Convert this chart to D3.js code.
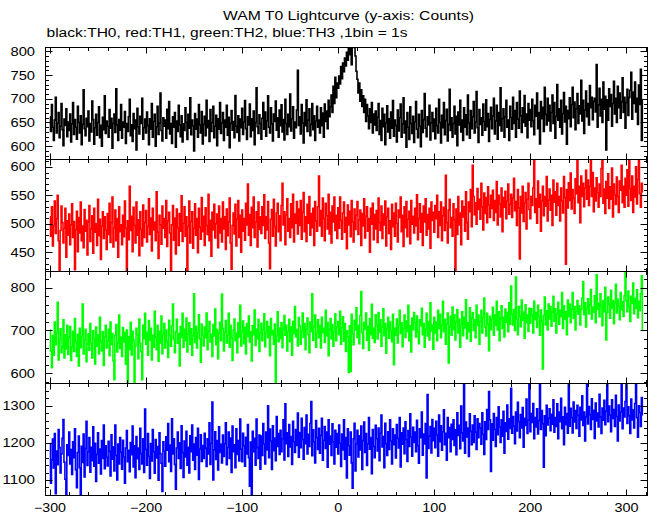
<!DOCTYPE html>
<html><head><meta charset="utf-8">
<script src="https://cdn.jsdelivr.net/npm/d3@7"></script>
<style>body{margin:0;background:#fff}svg{display:block}text{font-family:"Liberation Sans",Arial,sans-serif;fill:#000}</style>
</head><body><svg id="c" width="652" height="515"></svg>
<script>
const title = "WAM T0 Lightcurve (y-axis: Counts)";
const subtitle = "black:TH0, red:TH1, green:TH2, blue:TH3 ,1bin = 1s";
const tStart = -300; // first bin time (s), 1 bin = 1 s
const xTicks = [-300, -200, -100, 0, 100, 200, 300];
const th0 = [
662,631,688,640,612,655,703,628,649,671,618,642,690,635,601,657,644,679,620,651,
633,668,609,647,692,625,656,640,615,684,650,628,664,603,646,719,637,622,659,641,
674,611,648,630,695,656,604,639,667,623,650,683,618,644,600,661,635,706,627,653,
642,619,677,638,659,596,648,668,629,721,645,612,656,634,688,617,651,640,673,606,
648,631,662,699,622,645,610,669,637,655,592,680,641,626,663,648,701,615,639,657,
628,672,644,603,658,636,690,619,652,667,600,641,684,625,649,712,633,611,660,642,
655,617,678,637,694,626,648,606,662,640,671,598,653,631,686,645,620,664,609,647,
633,681,650,614,667,638,702,624,655,643,590,669,636,657,619,688,645,628,673,605,
646,663,622,697,639,654,610,677,631,650,684,618,642,665,601,658,636,692,627,649,
671,612,655,640,686,623,661,597,648,675,634,652,618,707,642,629,664,611,657,639,
680,625,651,696,637,614,662,645,689,620,658,633,674,603,650,723,641,627,666,648,
615,659,692,636,672,621,654,706,640,628,681,647,611,668,652,695,634,660,619,676,
643,687,630,656,613,699,648,625,667,641,710,632,658,683,617,651,639,676,760,644,
662,626,688,649,607,671,643,698,631,655,679,622,646,690,635,664,612,653,684,640,
655,628,681,643,670,619,689,652,674,637,697,662,683,708,671,726,690,745,702,733,
722,748,731,768,742,775,757,786,769,798,781,818,793,834,772,829,808,846,790,758,
741,712,733,695,719,684,706,671,699,652,688,664,637,679,650,692,628,668,645,674,
633,661,690,625,654,612,680,641,667,603,649,685,630,658,617,672,638,696,621,655,
644,609,676,632,660,689,619,647,702,628,653,598,671,640,614,683,648,627,663,608,
651,694,636,618,667,642,599,675,629,656,711,638,620,662,645,686,613,649,671,631,
657,616,680,643,628,699,650,607,665,639,692,624,654,678,611,646,720,633,660,619,
648,684,626,663,601,672,645,697,630,655,612,681,640,666,624,708,649,617,675,637,
662,694,628,651,715,639,608,677,646,660,623,689,652,634,698,641,669,610,656,682,
637,664,701,626,653,686,615,671,644,723,632,658,679,619,662,697,640,655,612,684,
661,636,703,648,675,619,692,657,638,716,664,629,681,650,707,642,668,618,690,655,
677,641,699,654,624,686,663,712,637,671,605,694,658,682,631,724,667,645,701,653,
686,632,671,708,648,692,617,663,730,655,679,640,697,626,669,713,651,684,604,675,
658,702,641,688,724,660,693,635,679,711,648,685,668,739,653,697,627,676,716,662,
690,645,728,681,703,656,694,701,672,772,640,687,722,664,699,650,735,678,705,592,
698,655,721,684,709,642,690,737,668,701,650,726,681,712,659,694,744,671,703,638,
692,720,665,703,718,756,657,714,690,735,672,701,646,729,688,762,612,697];
const th1 = [
512,478,530,461,497,540,483,509,550,470,412,488,531,502,466,492,527,441,505,480,
517,463,498,535,476,504,419,490,522,451,511,484,538,470,496,458,525,487,506,445,
503,532,469,491,514,448,527,485,500,462,543,479,508,437,496,521,474,512,489,455,
518,481,536,467,502,547,459,493,524,470,509,441,530,486,498,463,515,477,540,492,
416,505,472,566,488,513,451,529,497,466,538,480,507,444,521,490,461,533,476,502,
523,468,495,544,481,510,452,527,489,503,470,556,485,439,515,498,464,531,492,509,
476,541,460,505,520,484,414,498,532,471,510,447,526,493,462,518,487,549,469,501,
530,478,512,418,495,540,466,504,521,457,492,535,480,509,449,527,494,473,546,486,
513,462,528,497,481,552,470,506,443,520,489,534,475,500,517,458,531,484,509,468,
538,491,512,455,526,479,503,545,466,420,497,519,482,534,461,508,541,476,515,450,
524,487,509,471,536,498,570,480,516,462,529,493,547,476,503,521,459,538,490,512,
483,530,497,551,474,512,489,539,466,421,508,525,478,543,495,461,519,536,486,514,
470,532,571,498,521,463,515,544,487,509,476,535,493,552,468,517,501,539,482,526,
497,541,473,520,555,486,512,469,534,501,548,480,518,493,527,462,539,505,487,530,
584,496,523,478,545,509,470,536,514,491,552,482,520,466,531,503,547,488,515,474,
528,492,547,506,473,519,538,485,511,456,533,498,522,477,541,503,468,526,490,515,
539,481,507,524,462,518,496,544,475,513,530,487,509,450,527,499,536,472,516,491,
523,467,545,502,488,531,474,517,498,540,461,512,527,483,505,455,534,495,519,478,
536,501,468,524,511,547,486,515,460,530,493,539,477,508,522,465,541,499,513,484,
527,496,551,472,509,535,485,518,462,531,503,544,480,516,491,527,457,538,506,520,
485,532,509,550,476,521,497,538,470,514,529,488,585,502,466,524,543,493,511,478,
535,507,412,526,481,548,498,519,463,540,512,530,487,556,502,473,538,521,560,495,
603,548,516,537,499,562,525,543,508,571,530,489,554,518,546,502,565,533,511,550,
527,559,506,541,520,574,498,550,535,512,563,486,546,529,557,509,540,570,517,534,
552,511,545,580,523,539,497,560,528,438,548,519,566,504,537,555,491,543,571,525,
509,548,532,563,612,520,544,501,575,529,552,487,540,566,514,548,531,583,505,542,
561,524,550,497,577,538,556,515,571,532,548,505,563,540,519,583,546,429,560,528,
572,541,589,526,560,545,518,579,553,612,537,566,502,584,548,571,530,563,594,543,
577,532,566,614,548,590,521,563,540,581,555,529,570,548,597,614,536,561,518,574,
545,588,527,565,543,598,512,570,551,534,582,548,520,575,559,603,537,566,529,580,
550,595,531,614,562,541,584,520,566,547,600,535,578,614,553,529,571,556];
const th2 = [
701,652,613,688,642,720,667,695,766,631,679,704,648,661,725,636,690,657,712,644,
684,709,630,662,698,651,728,673,640,691,617,705,660,686,762,645,678,703,627,669,
692,654,716,671,636,699,680,622,708,663,690,645,731,674,652,697,618,685,712,659,
676,703,641,720,667,693,629,585,689,714,650,672,736,658,684,639,707,673,695,621,
701,572,686,655,719,643,698,678,570,663,705,690,634,727,670,651,585,712,681,740,
668,696,642,723,677,705,631,689,661,745,684,655,712,628,698,671,734,646,690,716,
659,701,675,637,724,688,663,711,762,680,648,697,726,670,693,617,709,684,740,661,
703,676,729,650,692,718,668,704,642,688,786,672,710,659,695,737,681,626,715,690,
664,708,683,741,655,698,721,673,691,639,714,687,750,667,702,634,693,719,676,785,
705,652,696,723,671,689,740,661,712,683,630,701,727,676,694,648,718,685,759,664,
698,722,669,707,645,716,686,734,673,697,629,711,690,748,665,703,680,726,651,694,
717,676,702,739,662,695,721,683,709,641,728,690,700,668,715,575,687,744,674,706,
681,718,660,703,735,689,712,652,697,726,674,708,642,721,693,756,685,702,664,730,
711,668,699,741,684,716,655,703,729,690,648,720,698,786,677,709,736,661,694,725,
683,712,659,731,695,706,672,747,688,719,641,702,728,680,714,663,698,739,676,708,
721,690,745,668,707,732,675,716,651,699,686,602,711,604,738,692,667,724,701,753,
684,712,669,735,791,695,658,719,703,741,677,710,654,728,690,761,682,706,672,737,
713,680,742,696,725,663,709,751,688,716,647,704,731,682,720,699,674,738,620,706,
689,727,671,713,747,693,718,662,705,736,684,722,698,759,676,711,650,729,702,742,
718,685,734,697,669,725,711,752,690,716,661,703,740,687,721,678,765,699,713,656,
731,694,720,676,747,705,738,683,712,768,697,726,668,715,741,624,709,733,689,755,
702,737,678,720,749,694,726,661,713,744,688,731,706,772,681,718,697,753,675,729,
742,700,725,683,759,712,736,668,721,747,694,730,776,708,687,740,715,653,733,702,
726,754,689,737,712,768,701,744,676,729,758,705,731,685,750,719,742,697,765,715,
804,738,713,749,700,825,727,690,756,733,709,771,724,743,682,760,718,736,698,752,
717,751,736,694,768,725,742,707,759,732,689,748,721,610,735,778,713,746,701,762,
727,756,710,743,780,722,751,694,738,766,715,747,732,789,705,758,726,744,690,771,
733,762,718,751,789,729,756,701,745,770,738,758,713,749,776,814,737,765,708,752,
774,739,761,796,727,755,743,781,718,830,749,764,732,786,757,711,770,744,801,678,
742,778,761,729,794,752,770,716,765,808,741,773,756,725,789,748,767,733,781,835,
769,744,792,757,721,780,763,811,739,775,752,795,730,768,747,786,828,700];
const th3 = [
1198,1091,1154,1210,1132,1225,1063,1178,1141,1236,1187,1119,1170,1212,1263,1148,1102,1050,1195,1166,
1229,1143,1182,1115,1203,1160,1238,1127,1079,1174,1218,1133,1050,1191,1147,1224,1108,1185,1258,1139,
1176,1214,1121,1188,1152,1243,1137,1199,1096,1169,1227,1145,1183,1116,1206,1158,1248,1130,1192,1161,
1138,1204,1177,1111,1222,1156,1189,1124,1248,1166,1100,1197,1143,1214,1175,1129,1207,1162,1091,1186,
1233,1149,1180,1122,1201,1168,1245,1135,1192,1106,1217,1157,1186,1128,1239,1171,1143,1211,1120,1291,
1182,1140,1225,1163,1104,1198,1151,1236,1176,1118,1209,1159,1190,1099,1227,1171,1145,1069,1203,1178,
1137,1216,1180,1252,1149,1194,1123,1265,1170,1211,1142,1075,1186,1229,1158,1200,1131,1246,1174,1107,
1205,1162,1231,1140,1188,1119,1219,1176,1248,1153,1197,1128,1214,1167,1239,1101,1183,1222,1150,1193,
1158,1226,1185,1136,1211,1170,1254,1142,1199,1310,1100,1181,1230,1155,1206,1127,1243,1174,1196,1146,
1221,1163,1198,1254,1141,1187,1229,1158,1213,1120,1245,1176,1195,1133,1238,1169,1206,1151,1264,1183,
1149,1226,1192,1137,1215,1170,1249,1160,1083,1202,1050,1231,1176,1212,1140,1264,1187,1158,1221,1129,
1218,1166,1252,1197,1143,1229,1181,1300,1160,1237,1205,1128,1246,1179,1213,1152,1271,1190,1225,1169,
1234,1176,1211,1262,1154,1305,1198,1227,1163,1249,1189,1217,1142,1258,1203,1174,1236,1193,1280,1161,
1228,1187,1266,1209,1156,1241,1198,1275,1170,1223,1190,1252,1311,1165,1235,1203,1146,1260,1214,1182,
1239,1172,1220,1266,1153,1207,1244,1185,1229,1134,1262,1196,1218,1166,1251,1203,1143,1234,1188,1225,
1170,1248,1199,1136,1224,1181,1262,1156,1214,1105,1238,1192,1167,1229,1146,1078,1211,1253,1124,1197,
1234,1162,1219,1181,1245,1128,1206,1256,1174,1225,1139,1198,1268,1183,1214,1117,1236,1190,1160,1247,
1211,1178,1240,1152,1226,1275,1189,1217,1133,1253,1198,1166,1230,1182,1262,1205,1143,1238,1195,1221,
1159,1249,1212,1186,1268,1135,1227,1196,1240,1171,1257,1209,1150,1233,1190,1278,1216,1164,1242,1201,
1229,1176,1261,1192,1145,1238,1214,1283,1167,1224,1197,1252,1105,1330,1185,1218,1244,1173,1263,1206,
1239,1187,1258,1221,1164,1275,1203,1246,1180,1230,1289,1195,1226,1153,1268,1214,1241,1176,1250,1209,
1262,1193,1235,1168,1281,1220,1247,1184,1299,1227,1205,1360,1172,1256,1216,1240,1163,1278,1231,1195,
1248,1201,1273,1229,1182,1265,1214,1252,1240,1196,1281,1223,1169,1257,1209,1290,1236,1338,1262,1123,
1251,1207,1279,1236,1190,1268,1222,1297,1243,1201,1262,1218,1285,1172,1254,1231,1302,1210,1265,1239,
1347,1226,1271,1245,1198,1283,1232,1309,1257,1214,1276,1240,1295,1188,1266,1247,1318,1225,1261,1358,
1230,1279,1255,1306,1211,1268,1243,1292,1224,1260,1358,1236,1287,1251,1134,1273,1219,1301,1248,1266,
1292,1233,1277,1250,1316,1229,1268,1244,1305,1211,1283,1257,1320,1238,1270,1195,1296,1249,1279,1226,
1358,1245,1293,1268,1227,1310,1256,1287,1239,1301,1274,1218,1296,1262,1327,1247,1283,1205,1270,1358,
1251,1298,1276,1236,1319,1263,1288,1212,1307,1259,1280,1243,1331,1270,1225,1294,1261,1315,1249,1285,
1358,1257,1299,1275,1230,1316,1266,1290,1244,1328,1271,1205,1302,1259,1283,1358,1238,1294,1270,1311,
1358,1252,1297,1273,1225,1318,1262,1289,1240,1306,1358,1268,1215,1300,1281,1244,1322,1275];

const yTicks0 = [600, 650, 700, 750, 800];
const yTicks1 = [450, 500, 550, 600];
const yTicks2 = [600, 700, 800];
const yTicks3 = [1100, 1200, 1300];

const panels = [
  {vals: th0, color: "#000000", dom: [572, 808], ticks: yTicks0, minor: 10},
  {vals: th1, color: "#ff0000", dom: [416, 613], ticks: yTicks1, minor: 10},
  {vals: th2, color: "#00ff00", dom: [576, 838], ticks: yTicks2, minor: 20},
  {vals: th3, color: "#0000ff", dom: [1058, 1360], ticks: yTicks3, minor: 20}
];

const svg = d3.select("#c");
const L = 45.5, R = 647.5;
const tops = [47.5, 159.5, 271.5, 383.5, 495.5];
const x = d3.scaleLinear().domain([-304.7, 321.9]).range([L, R]);
const DIG = 8.0; // glyph advance in the reference's wide font

function wideText(sel, str, w) {
  sel.text(str).attr("textLength", w).attr("lengthAdjust", "spacingAndGlyphs");
}

svg.append("text").attr("x", 223).attr("y", 19.5).attr("font-size", 12.5)
  .call(wideText, title, 251);
svg.append("text").attr("x", 46.5).attr("y", 37).attr("font-size", 12.5)
  .call(wideText, subtitle, 361);

const defs = svg.append("defs");
panels.forEach((p, i) => {
  const y0 = tops[i], y1 = tops[i + 1];
  const y = d3.scaleLinear().domain(p.dom).range([y1, y0]);
  const id = "clip" + i;
  defs.append("clipPath").attr("id", id).append("rect")
    .attr("x", L).attr("y", y0).attr("width", R - L).attr("height", y1 - y0);
  const times = p.vals.map((v, k) => tStart + k);
  const line = d3.line().x((d, k) => x(times[k])).y(d => y(d)).curve(d3.curveStep);
  svg.append("path").datum(p.vals).attr("clip-path", `url(#${id})`)
    .attr("d", line).attr("fill", "none").attr("stroke", p.color).attr("stroke-width", 1.6);

  const g = svg.append("g").attr("stroke", "#000").attr("stroke-width", 1).attr("fill", "none");
  // frame
  g.append("rect").attr("x", L).attr("y", y0).attr("width", R - L).attr("height", y1 - y0);
  // x ticks, top and bottom, inward
  const xMinor = d3.range(-300, 321, 20);
  xMinor.forEach(t => {
    const major = t % 100 === 0;
    const len = major ? 6 : 3.5;
    const px = Math.round(x(t)) + 0.5;
    g.append("line").attr("x1", px).attr("x2", px).attr("y1", y1).attr("y2", y1 - len);
    g.append("line").attr("x1", px).attr("x2", px).attr("y1", y0).attr("y2", y0 + len);
  });
  // y ticks left and right, inward
  const yMinor = d3.range(Math.ceil(p.dom[0] / p.minor) * p.minor, p.dom[1], p.minor);
  yMinor.forEach(v => {
    const major = p.ticks.includes(v);
    const len = major ? 7 : 3.5;
    const py = Math.round(y(v)) + 0.5;
    g.append("line").attr("x1", L).attr("x2", L + len).attr("y1", py).attr("y2", py);
    g.append("line").attr("x1", R).attr("x2", R - len).attr("y1", py).attr("y2", py);
  });
  p.ticks.forEach(v => {
    const s = String(v);
    svg.append("text").attr("x", 35).attr("y", y(v) + 4.5).attr("font-size", 12)
      .attr("text-anchor", "end").call(wideText, s, s.length * DIG + 0.5);
  });
});

xTicks.forEach(t => {
  const s = t < 0 ? "\u2212" + Math.abs(t) : String(t);
  svg.append("text").attr("x", x(t)).attr("y", 512).attr("font-size", 12)
    .attr("text-anchor", "middle").call(wideText, s, s.length * DIG);
});
</script></body></html>
